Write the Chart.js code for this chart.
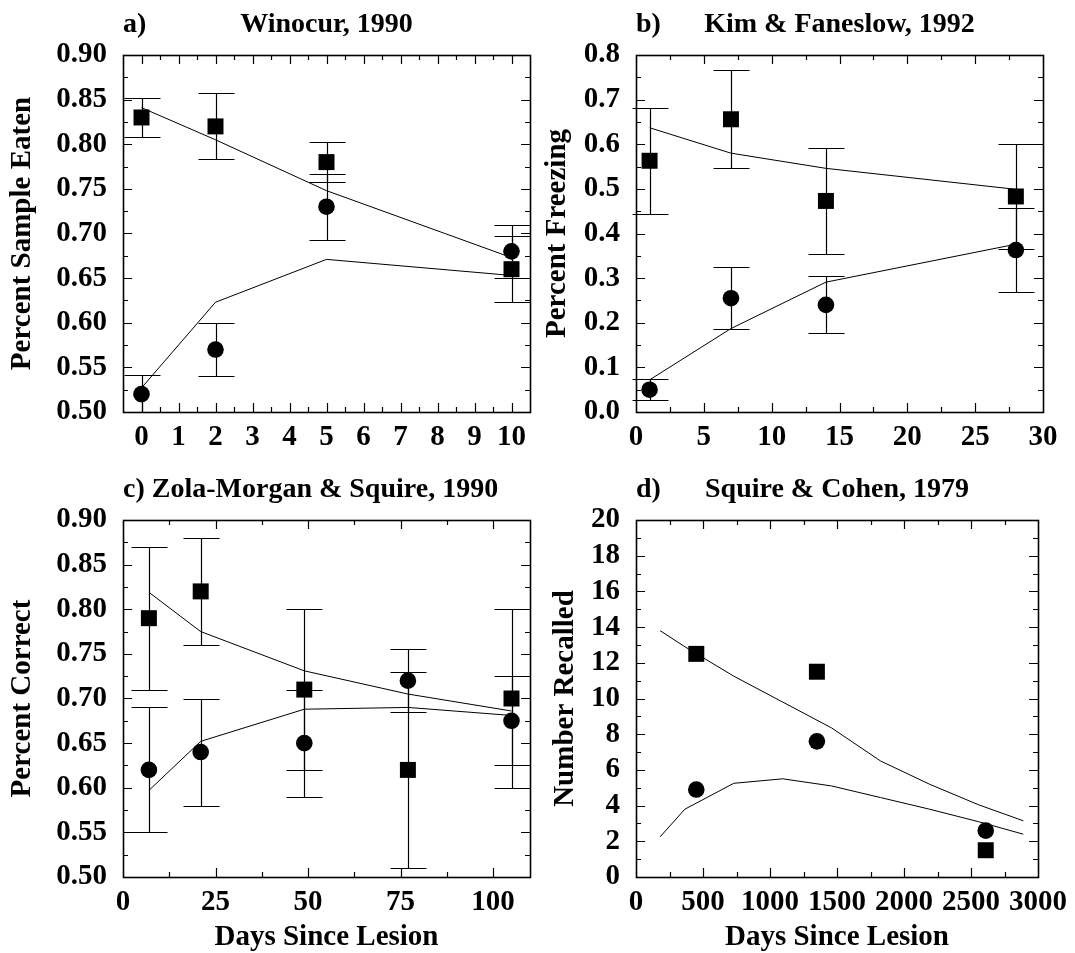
<!DOCTYPE html>
<html><head><meta charset="utf-8">
<script src="https://cdn.jsdelivr.net/npm/chart.js@4.4.0/dist/chart.umd.min.js"></script>
<style>
html,body{margin:0;padding:0;background:#fff;width:1075px;height:953px;overflow:hidden;position:relative}
canvas{position:absolute}
</style></head><body>
<canvas id="ca" width="560" height="465" style="left:0;top:0"></canvas>
<canvas id="cb" width="535" height="465" style="left:540px;top:0"></canvas>
<canvas id="cc" width="560" height="488" style="left:0;top:465px"></canvas>
<canvas id="cd" width="535" height="488" style="left:540px;top:465px"></canvas>
<script>
// ---------- Panel a: Winocur, 1990 ----------
const daysA = [0, 2, 5, 10];
const controlA = [0.83, 0.82, 0.78, 0.66];
const controlErrA = [0.022, 0.037, 0.022, 0.037];
const lesionA = [0.52, 0.57, 0.73, 0.68];
const lesionErrA = [0.022, 0.03, 0.037, 0.03];
const modelControlA = [0.841, 0.805, 0.748, 0.673];
const modelLesionA = [0.527, 0.623, 0.671, 0.653];
const xTicksA = [0, 1, 2, 3, 4, 5, 6, 7, 8, 9, 10];
const yTicksA = [0.50, 0.55, 0.60, 0.65, 0.70, 0.75, 0.80, 0.85, 0.90];

// ---------- Panel b: Kim & Faneslow, 1992 ----------
const daysB = [1, 7, 14, 28];
const controlB = [0.563, 0.656, 0.473, 0.483];
const controlErrB = [0.119, 0.11, 0.118, 0.117];
const lesionB = [0.05, 0.255, 0.24, 0.363];
const lesionErrB = [0.023, 0.069, 0.064, 0.095];
const modelControlB = [0.637, 0.580, 0.546, 0.499];
const modelLesionB = [0.072, 0.187, 0.291, 0.376];
const xTicksB = [0, 5, 10, 15, 20, 25, 30];
const yTicksB = [0.0, 0.1, 0.2, 0.3, 0.4, 0.5, 0.6, 0.7, 0.8];

// ---------- Panel c: Zola-Morgan & Squire, 1990 ----------
const daysC = [7, 21, 49, 77, 105];
const controlC = [0.79, 0.82, 0.71, 0.62, 0.70];
const controlErrC = [0.08, 0.06, 0.09, 0.11, 0.10];
const lesionC = [0.62, 0.64, 0.65, 0.72, 0.675];
const lesionErrC = [0.07, 0.06, 0.06, 0.035, 0.05];
const modelControlC = [0.819, 0.775, 0.731, 0.705, 0.686];
const modelLesionC = [0.597, 0.652, 0.688, 0.690, 0.681];
const xTicksC = [0, 25, 50, 75, 100];
const yTicksC = [0.50, 0.55, 0.60, 0.65, 0.70, 0.75, 0.80, 0.85, 0.90];

// ---------- Panel d: Squire & Cohen, 1979 ----------
const daysD = [450, 1350, 2610];
const controlD = [12.5, 11.5, 1.5];
const lesionD = [4.9, 7.6, 2.6];
const modelDaysD = [180, 365, 730, 1095, 1460, 1825, 2190, 2555, 2890];
const modelControlD = [13.8, 12.9, 11.25, 9.8, 8.35, 6.5, 5.2, 4.05, 3.15];
const modelLesionD = [2.25, 3.8, 5.25, 5.5, 5.1, 4.45, 3.8, 3.1, 2.4];
const xTicksD = [0, 500, 1000, 1500, 2000, 2500, 3000];
const yTicksD = [0, 2, 4, 6, 8, 10, 12, 14, 16, 18, 20];

const FONT = '"Liberation Serif", "Times New Roman", Times, serif';
const FS = 29;
const TFS = 28;
const CAP = 18;

function xy(xs, ys) { return xs.map((x, i) => ({ x: x, y: ys[i] })); }

const decor = {
  id: 'decor',
  beforeDatasetsDraw(chart) {
    const ctx = chart.ctx, a = chart.chartArea, xs = chart.scales.x, ys = chart.scales.y;
    ctx.save();
    ctx.beginPath();
    ctx.rect(0, a.top - 0.5, chart.width, a.bottom - a.top + 1);
    ctx.clip();
    ctx.strokeStyle = '#000';
    ctx.lineWidth = 1.2;
    chart.data.datasets.forEach(ds => {
      if (!ds.errorBars) return;
      ds.data.forEach((p, i) => {
        const e = ds.errorBars[i];
        const px = Math.round(xs.getPixelForValue(p.x)) + 0.5;
        const yt = Math.round(ys.getPixelForValue(p.y + e)) + 0.5;
        const yb = Math.round(ys.getPixelForValue(p.y - e)) + 0.5;
        ctx.beginPath();
        ctx.moveTo(px, yt); ctx.lineTo(px, yb);
        ctx.moveTo(px - CAP, yt); ctx.lineTo(px + CAP, yt);
        ctx.moveTo(px - CAP, yb); ctx.lineTo(px + CAP, yb);
        ctx.stroke();
      });
    });
    ctx.restore();
  },
  afterDraw(chart, args, o) {
    const ctx = chart.ctx, a = chart.chartArea, xs = chart.scales.x, ys = chart.scales.y;
    ctx.save();
    ctx.strokeStyle = '#000';
    ctx.lineWidth = 1.2;
    const tickSet = (scale) => {
      const maj = scale.ticks.map(t => t.value);
      const step = maj[1] - maj[0];
      const out = [];
      const lo = Math.min(scale.min, scale.max), hi = Math.max(scale.min, scale.max);
      for (let v = maj[0] - step; v <= maj[maj.length - 1] + step + 1e-9; v += step / 2) {
        const isMaj = Math.abs(Math.round((v - maj[0]) / step) * step - (v - maj[0])) < step * 1e-6;
        if (v > lo + 1e-9 && v < hi - 1e-9) out.push({ v: v, major: isMaj });
      }
      return out;
    };
    tickSet(xs).forEach(t => {
      const px = Math.round(xs.getPixelForValue(t.v)) + 0.5;
      const L = t.major ? 9 : 5;
      ctx.beginPath();
      ctx.moveTo(px, a.bottom); ctx.lineTo(px, a.bottom - L);
      ctx.moveTo(px, a.top); ctx.lineTo(px, a.top + L);
      ctx.stroke();
    });
    tickSet(ys).forEach(t => {
      const py = Math.round(ys.getPixelForValue(t.v)) + 0.5;
      const L = t.major ? 9 : 5;
      ctx.beginPath();
      ctx.moveTo(a.left, py); ctx.lineTo(a.left + L, py);
      ctx.moveTo(a.right, py); ctx.lineTo(a.right - L, py);
      ctx.stroke();
    });
    ctx.lineWidth = 1.6;
    ctx.strokeRect(Math.round(a.left) + 0.5, Math.round(a.top) + 0.5,
                   Math.round(a.right - a.left), Math.round(a.bottom - a.top));
    ctx.fillStyle = '#000';
    ctx.font = 'bold ' + TFS + 'px ' + FONT;
    ctx.textBaseline = 'alphabetic';
    ctx.textAlign = 'left';
    if (o.joined) {
      ctx.fillText(o.letter + ' ' + o.title, a.left, o.titleY);
    } else {
      ctx.fillText(o.letter, a.left, o.titleY);
      ctx.textAlign = 'center';
      ctx.fillText(o.title, (a.left + a.right) / 2, o.titleY);
    }
    ctx.textAlign = 'center';
    ctx.font = 'bold ' + FS + 'px ' + FONT;
    if (o.xTitle) ctx.fillText(o.xTitle, (a.left + a.right) / 2, o.xTitleY);
    ctx.translate(o.yTitleX, (a.top + a.bottom) / 2);
    ctx.rotate(-Math.PI / 2);
    ctx.textBaseline = 'middle';
    ctx.fillText(o.yTitle, 0, 0);
    ctx.restore();
  }
};

function makeChart(id, cfg) {
  const tickFont = { family: FONT, size: FS, weight: 'bold', lineHeight: 1.2 };
  const datasets = [
    { data: xy(cfg.modelX, cfg.modelControl), showLine: true, pointRadius: 0, borderColor: '#000', borderWidth: 1, tension: 0, order: 3 },
    { data: xy(cfg.modelX, cfg.modelLesion), showLine: true, pointRadius: 0, borderColor: '#000', borderWidth: 1, tension: 0, order: 3 },
    { data: xy(cfg.days, cfg.control), errorBars: cfg.controlErr, pointStyle: 'rect', pointRadius: 11.3, pointBackgroundColor: '#000', pointBorderWidth: 0, borderColor: '#000', order: 1 },
    { data: xy(cfg.days, cfg.lesion), errorBars: cfg.lesionErr, pointStyle: 'circle', pointRadius: 8.3, pointBackgroundColor: '#000', pointBorderWidth: 0, borderColor: '#000', order: 1 }
  ];
  return new Chart(document.getElementById(id), {
    type: 'scatter',
    data: { datasets: datasets },
    plugins: [decor],
    options: {
      responsive: false,
      animation: false,
      devicePixelRatio: 1,
      layout: { padding: { top: 55, right: cfg.padRight, left: 0, bottom: 0 } },
      plugins: {
        legend: { display: false },
        tooltip: { enabled: false },
        decor: cfg.decor
      },
      scales: {
        x: {
          type: 'linear', min: cfg.xMin, max: cfg.xMax,
          grid: { display: false, drawTicks: false }, border: { display: false },
          afterBuildTicks: s => { s.ticks = cfg.xTicks.map(v => ({ value: v })); },
          afterFit: s => { s.height = cfg.xHeight; },
          ticks: { font: tickFont, color: '#000', padding: 8, autoSkip: false, maxRotation: 0, minRotation: 0,
                   callback: v => String(v) }
        },
        y: {
          type: 'linear', min: cfg.yMin, max: cfg.yMax,
          grid: { display: false, drawTicks: false }, border: { display: false },
          afterBuildTicks: s => { s.ticks = cfg.yTicks.map(v => ({ value: v })); },
          afterFit: s => { s.width = cfg.yWidth; },
          ticks: { font: tickFont, color: '#000', padding: 16, autoSkip: false,
                   callback: v => Number(v).toFixed(cfg.yDec) }
        }
      }
    }
  });
}

makeChart('ca', {
  days: daysA, control: controlA, controlErr: controlErrA, lesion: lesionA, lesionErr: lesionErrA,
  modelX: daysA, modelControl: modelControlA, modelLesion: modelLesionA,
  xMin: -0.5, xMax: 10.5, xTicks: xTicksA, yMin: 0.5, yMax: 0.9, yTicks: yTicksA, yDec: 2,
  padRight: 30, yWidth: 123, xHeight: 53,
  decor: { letter: 'a)', title: 'Winocur, 1990', titleY: 32, yTitle: 'Percent Sample Eaten', yTitleX: 23 }
});
makeChart('cb', {
  days: daysB, control: controlB, controlErr: controlErrB, lesion: lesionB, lesionErr: lesionErrB,
  modelX: daysB, modelControl: modelControlB, modelLesion: modelLesionB,
  xMin: 0, xMax: 30, xTicks: xTicksB, yMin: 0, yMax: 0.8, yTicks: yTicksB, yDec: 1,
  padRight: 32, yWidth: 96, xHeight: 53,
  decor: { letter: 'b)', title: 'Kim & Faneslow, 1992', titleY: 32, yTitle: 'Percent Freezing', yTitleX: 18 }
});
makeChart('cc', {
  days: daysC, control: controlC, controlErr: controlErrC, lesion: lesionC, lesionErr: lesionErrC,
  modelX: daysC, modelControl: modelControlC, modelLesion: modelLesionC,
  xMin: 0, xMax: 110, xTicks: xTicksC, yMin: 0.5, yMax: 0.9, yTicks: yTicksC, yDec: 2,
  padRight: 30, yWidth: 123, xHeight: 76,
  decor: { letter: 'c)', title: 'Zola-Morgan & Squire, 1990', joined: true, titleY: 32, yTitle: 'Percent Correct', yTitleX: 23,
           xTitle: 'Days Since Lesion', xTitleY: 480 }
});
makeChart('cd', {
  days: daysD, control: controlD, controlErr: null, lesion: lesionD, lesionErr: null,
  modelX: modelDaysD, modelControl: modelControlD, modelLesion: modelLesionD,
  xMin: 0, xMax: 3000, xTicks: xTicksD, yMin: 0, yMax: 20, yTicks: yTicksD, yDec: 0,
  padRight: 32, yWidth: 96, xHeight: 76,
  decor: { letter: 'd)', title: 'Squire & Cohen, 1979', titleY: 32, yTitle: 'Number Recalled', yTitleX: 26,
           xTitle: 'Days Since Lesion', xTitleY: 480 }
});
</script>
</body></html>
